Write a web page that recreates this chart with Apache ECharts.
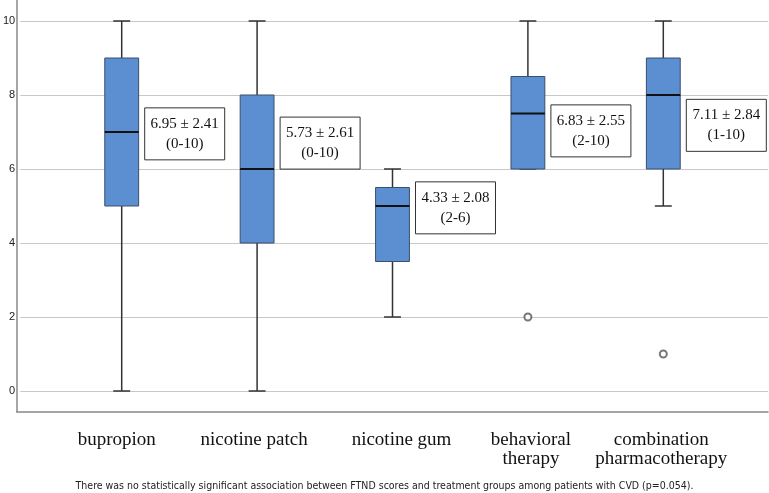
<!DOCTYPE html>
<html>
<head>
<meta charset="utf-8">
<script src="https://cdn.jsdelivr.net/npm/echarts@6/dist/echarts.min.js"></script>
<style>
  html, body { margin: 0; padding: 0; background: #fff; }
  #chart { width: 769px; height: 493px; }
</style>
</head>
<body>
<div id="chart"></div>
<script>
// 治疗组
var categories = ['bupropion', 'nicotine patch', 'nicotine gum', 'behavioral\ntherapy', 'combination\npharmacotherapy'];
// 箱线图: [min, Q1, median, Q3, max]
var boxValues = [
    [0, 5, 7, 9, 10],
    [0, 4, 6, 8, 10],
    [2, 3.5, 5, 5.5, 6],
    [6, 6, 7.5, 8.5, 10],
    [5, 6, 8, 9, 10]
];
// 离群点: [组序号, 值]
var outliers = [
    [3, 2],
    [4, 1]
];
// 均值 ± 标准差 (范围)
var meanSd = ['6.95 ± 2.41', '5.73 ± 2.61', '4.33 ± 2.08', '6.83 ± 2.55', '7.11 ± 2.84'];
var ranges = ['(0-10)', '(0-10)', '(2-6)', '(2-10)', '(1-10)'];
var yTicks = [0, 2, 4, 6, 8, 10];

var footnote = 'There was no statistically significant association between FTND scores and treatment groups among patients with CVD (p=0.054).';

// 注释框中心所在的y值 (布局用)
var noteAt = [6.95, 6.70, 4.95, 7.03, 7.18];
// 分类标签的水平偏移 (px, 布局用)
var labelShift = [-5, -3, 9, 3, -2];

var chart = echarts.init(document.getElementById('chart'));

function renderBox(params, api) {
    var i = api.value(0);
    var band = api.size([1, 0])[0];
    var bw = band * 0.25;
    var cw = bw / 2;
    var pMin = api.coord([i, api.value(1)]);
    var pQ1 = api.coord([i, api.value(2)]);
    var pMed = api.coord([i, api.value(3)]);
    var pQ3 = api.coord([i, api.value(4)]);
    var pMax = api.coord([i, api.value(5)]);
    var x = pMin[0];
    var lineStyle = { stroke: '#333', lineWidth: 1.5, fill: null };
    return {
        type: 'group',
        children: [
            { type: 'line', shape: { x1: x, y1: pMin[1], x2: x, y2: pQ1[1] }, style: lineStyle },
            { type: 'line', shape: { x1: x, y1: pQ3[1], x2: x, y2: pMax[1] }, style: lineStyle },
            { type: 'line', shape: { x1: x - cw / 2, y1: pMin[1], x2: x + cw / 2, y2: pMin[1] }, style: lineStyle },
            { type: 'line', shape: { x1: x - cw / 2, y1: pMax[1], x2: x + cw / 2, y2: pMax[1] }, style: lineStyle },
            {
                type: 'rect',
                shape: { x: x - bw / 2, y: pQ3[1], width: bw, height: pQ1[1] - pQ3[1] },
                style: { fill: '#5b8fd2', stroke: '#3a4f6a', lineWidth: 1 }
            },
            { type: 'line', shape: { x1: x - bw / 2, y1: pMed[1], x2: x + bw / 2, y2: pMed[1] }, style: { stroke: '#111', lineWidth: 2.2 } }
        ]
    };
}

function renderNote(params, api) {
    var i = api.value(0);
    var p = api.coord([i, api.value(1)]);
    var left = p[0] + 23;
    var w = 80, h = 52;
    var font = '15px "Liberation Serif", "Times New Roman", serif';
    return {
        type: 'group',
        children: [
            {
                type: 'rect',
                shape: { x: left, y: p[1] - h / 2, width: w, height: h },
                style: { fill: '#fff', stroke: '#333', lineWidth: 1 }
            },
            {
                type: 'text',
                style: { x: left + w / 2, y: p[1] - 10, text: meanSd[i], font: font, fill: '#111', align: 'center', verticalAlign: 'middle' }
            },
            {
                type: 'text',
                style: { x: left + w / 2, y: p[1] + 10, text: ranges[i], font: font, fill: '#111', align: 'center', verticalAlign: 'middle' }
            }
        ]
    };
}

var catFont = '"Liberation Serif", "Times New Roman", serif';
var rich = {};
labelShift.forEach(function (s, i) {
    rich['c' + i] = {
        fontFamily: catFont,
        fontSize: 19,
        lineHeight: 19,
        color: '#111',
        padding: s >= 0 ? [0, 0, 0, 2 * s] : [0, -2 * s, 0, 0]
    };
});

var option = {
    animation: false,
    backgroundColor: '#fff',
    grid: [
        // 数据区
        { left: 54, width: 677, top: 21, bottom: 102 },
        // 网格线与刻度
        { left: 17, right: 1, top: 21, bottom: 102 },
        // 外框
        { left: 17, right: 1, top: 0, bottom: 81 }
    ],
    xAxis: [
        {
            gridIndex: 0,
            type: 'category',
            data: categories,
            axisLine: { show: false },
            axisTick: { show: false },
            axisLabel: {
                margin: 40,
                interval: 0,
                fontFamily: catFont,
                fontSize: 19,
                lineHeight: 19,
                color: '#111',
                formatter: function (v, i) {
                    return v.split('\n').map(function (l) { return '{c' + i + '|' + l + '}'; }).join('\n');
                },
                rich: rich
            }
        },
        { gridIndex: 1, type: 'value', show: false },
        {
            gridIndex: 2,
            type: 'value',
            axisLine: { show: true, lineStyle: { color: '#888', width: 1.5 } },
            axisTick: { show: false },
            axisLabel: { show: false },
            splitLine: { show: false }
        }
    ],
    yAxis: [
        { gridIndex: 0, type: 'value', min: 0, max: 10, show: false },
        {
            gridIndex: 1,
            type: 'value',
            min: 0,
            max: 10,
            interval: 2,
            axisLine: { show: false },
            axisTick: { show: false },
            axisLabel: {
                margin: 5,
                fontFamily: '"Liberation Sans", Arial, sans-serif',
                fontSize: 11,
                color: '#222',
                formatter: function (v) { return yTicks.indexOf(v) >= 0 ? String(v) : ''; }
            },
            splitLine: { lineStyle: { color: '#c8c8c8', width: 1 } }
        },
        {
            gridIndex: 2,
            type: 'value',
            axisLine: { show: true, lineStyle: { color: '#888', width: 1.5 } },
            axisTick: { show: false },
            axisLabel: { show: false },
            splitLine: { show: false }
        }
    ],
    series: [
        {
            type: 'custom',
            xAxisIndex: 0,
            yAxisIndex: 0,
            renderItem: renderBox,
            encode: { x: 0, y: [1, 2, 3, 4, 5] },
            data: boxValues.map(function (b, i) { return [i].concat(b); }),
            z: 3
        },
        {
            type: 'scatter',
            xAxisIndex: 0,
            yAxisIndex: 0,
            symbol: 'circle',
            symbolSize: 7,
            itemStyle: { color: '#fff', borderColor: '#555', borderWidth: 2 },
            data: outliers,
            z: 4
        },
        {
            type: 'custom',
            xAxisIndex: 0,
            yAxisIndex: 0,
            renderItem: renderNote,
            encode: { x: 0, y: 1 },
            data: noteAt.map(function (v, i) { return [i, v]; }),
            z: 5
        }
    ],
    graphic: [
        {
            type: 'text',
            left: 'center',
            top: 481,
            style: {
                text: footnote,
                font: '10.5px "DejaVu Sans Condensed", "Liberation Sans Narrow", "Noto Sans", sans-serif',
                fill: '#222'
            }
        }
    ]
};

chart.setOption(option);
</script>
</body>
</html>
